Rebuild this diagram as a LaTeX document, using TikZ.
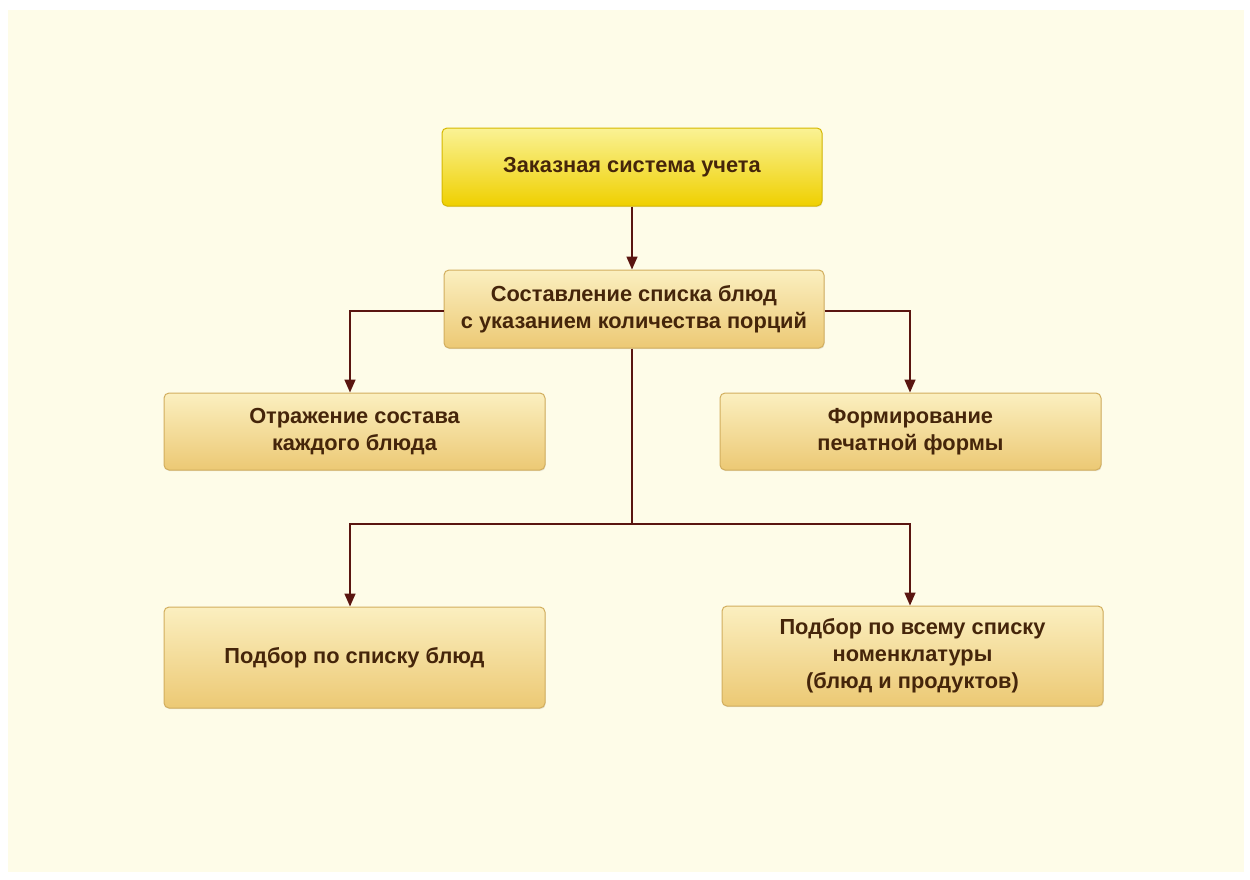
\documentclass[tikz,border=0pt]{standalone}
\usepackage{fontspec}
\setmainfont{Liberation Sans}
\usetikzlibrary{arrows.meta,shadows}
\definecolor{bgcream}{HTML}{FEFCE8}
\definecolor{linebrown}{HTML}{5A1510}
\definecolor{txtbrown}{HTML}{45250A}
\definecolor{boxtop}{HTML}{FBEFC0}
\definecolor{boxbot}{HTML}{ECC974}
\definecolor{boxedge}{HTML}{D2AE5E}
\definecolor{ytop}{HTML}{FAF295}
\definecolor{ybot}{HTML}{EFD000}
\definecolor{yedge}{HTML}{D6B800}
\tikzset{
  x=1pt,y=-1pt,
  box/.style={draw=boxedge, line width=1pt, rounded corners=5pt,
    top color=boxtop, bottom color=boxbot, text=txtbrown,
    font=\fontsize{21.8}{27}\selectfont\bfseries, align=center,
    inner sep=0pt, drop shadow={shadow xshift=0.6pt, shadow yshift=-1.2pt, opacity=0.18}},
  ybox/.style={box, draw=yedge, top color=ytop, bottom color=ybot},
  conn/.style={draw=linebrown, line width=1.6pt, -{Triangle[length=13pt,width=11pt]}},
  plain/.style={draw=linebrown, line width=1.6pt}
}
\begin{document}
\begin{tikzpicture}
\useasboundingbox (0,0) rectangle (1250,879);
\fill[white] (0,0) rectangle (1250,879);
\fill[bgcream] (8,10) rectangle (1244,872);

\node[ybox, minimum width=380pt, minimum height=78pt] (top) at (632,167) {Заказная система учета};
\node[box, minimum width=380pt, minimum height=78pt] (list) at (634,309) {Составление списка блюд\\с указанием количества порций};
\node[box, minimum width=381pt, minimum height=77pt] (sost) at (354.5,431.5) {Отражение состава\\каждого блюда};
\node[box, minimum width=381pt, minimum height=77pt] (form) at (910.5,431.5) {Формирование\\печатной формы};
\node[box, minimum width=381pt, minimum height=101pt] (podb) at (354.5,657.5) {Подбор по списку блюд};
\node[box, minimum width=381pt, minimum height=100pt] (nom) at (912.5,656) {Подбор по всему списку\\номенклатуры\\(блюд и продуктов)};

\coordinate (jl) at (350,311);
\coordinate (jr) at (910,311);
\coordinate (jm) at (632,524);
\coordinate (jbl) at (350,524);
\coordinate (jbr) at (910,524);

\draw[conn] (top.south -| jm) -- (list.north -| jm);
\draw[conn] (list.west |- jl) -- (jl) -- (sost.north -| jl);
\draw[conn] (list.east |- jr) -- (jr) -- (form.north -| jr);
\draw[plain] (list.south -| jm) -- (jm);
\draw[conn] (jm) -- (jbl) -- (podb.north -| jbl);
\draw[conn] (jm) -- (jbr) -- (nom.north -| jbr);
\end{tikzpicture}
\end{document}
